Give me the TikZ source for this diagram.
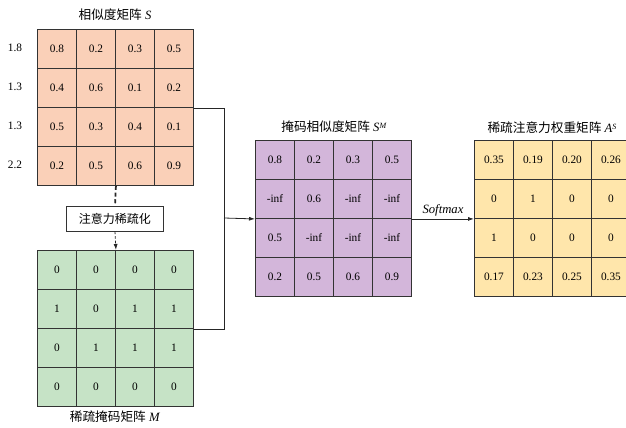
\documentclass[tikz,border=0pt]{standalone}
\usepackage{fontspec}
\setmainfont{Liberation Serif}
\newfontfamily\cjk{Noto Sans CJK SC}
\usetikzlibrary{arrows.meta}
\definecolor{cOr}{HTML}{FAD0B8}
\definecolor{cGr}{HTML}{C6E3C6}
\definecolor{cPu}{HTML}{D3B6DA}
\definecolor{cYe}{HTML}{FFE6AB}
\newcommand\drawmat[5]{%
  \foreach \v [count=\i from 0] in {#5} {%
    \pgfmathtruncatemacro\rr{floor(\i/4)+1}%
    \pgfmathtruncatemacro\cc{mod(\i,4)+1}%
    \node[cell, fill=#2] (#1-\rr-\cc) at ({#3+39*(\cc-1)}, {#4+39*(\rr-1)}) {\v};
  }%
}
\begin{document}
\begin{tikzpicture}[x=0.75pt,y=-0.75pt,
  cell/.style={draw=black!80, line width=0.7pt, minimum size=29.25pt, inner sep=0pt, anchor=north west, font=\fontsize{8.5}{10}\selectfont},
  title/.style={inner sep=1pt, font=\fontsize{9.5}{11}\selectfont},
  rowlab/.style={inner sep=1pt, font=\fontsize{8.5}{10}\selectfont},
  conn/.style={draw=black!85, line width=0.6pt},
  tip/.style={-{Latex[length=4.5pt,width=3pt]}}]
\useasboundingbox (0,0) rectangle (626,428);

\drawmat{S}{cOr}{37}{29}{0.8,0.2,0.3,0.5,0.4,0.6,0.1,0.2,0.5,0.3,0.4,0.1,0.2,0.5,0.6,0.9}
\drawmat{M}{cGr}{37}{250}{0,0,0,0,1,0,1,1,0,1,1,1,0,0,0,0}
\drawmat{P}{cPu}{255}{140}{0.8,0.2,0.3,0.5,-inf,0.6,-inf,-inf,0.5,-inf,-inf,-inf,0.2,0.5,0.6,0.9}
\drawmat{A}{cYe}{474}{140}{0.35,0.19,0.20,0.26,0,1,0,0,1,0,0,0,0.17,0.23,0.25,0.35}

\node[rowlab] (r1) at (15,48) {1.8};
\node[rowlab] (r2) at (15,87) {1.3};
\node[rowlab] (r3) at (15,126) {1.3};
\node[rowlab] (r4) at (15,165) {2.2};

\node[title] (tS) at (115,15) {{\cjk 相似度矩阵} \textit{S}};
\node[title] (tM) at (115,417) {{\cjk 稀疏掩码矩阵} \textit{M}};
\node[title] (tP) at (334,127) {{\cjk 掩码相似度矩阵} \textit{S}\raisebox{0.6ex}{\fontsize{6}{7}\selectfont\textit{M}}};
\node[title] (tA) at (552,128) {{\cjk 稀疏注意力权重矩阵} \textit{A}\raisebox{0.6ex}{\fontsize{6}{7}\selectfont\textit{S}}};

\node[draw=black!80, line width=0.6pt, fill=white, minimum width=72.75pt, minimum height=18.75pt, inner sep=0pt, font=\fontsize{9}{10}\selectfont] (box) at (115,218.5) {\cjk 注意力稀疏化};

\draw[conn, dashed, line width=1.3pt, dash pattern=on 3pt off 2pt] (S-4-2.south east) -- (box.north);
\draw[conn, dashed, tip, dash pattern=on 2pt off 1.5pt] (box.south) -- (M-1-2.north east);

\coordinate (J) at (224,218);
\draw[conn] (S-2-4.south east) -| (J);
\draw[conn] (M-2-4.south east) -| (J);
\draw[conn, tip] (J) -- (P-2-1.south west);
\draw[conn, tip] (P-2-4.south east) -- node[above=1pt, font=\fontsize{9.5}{11}\selectfont\itshape, inner sep=1pt] (sm) {Softmax} (A-2-1.south west);
\end{tikzpicture}
\end{document}
